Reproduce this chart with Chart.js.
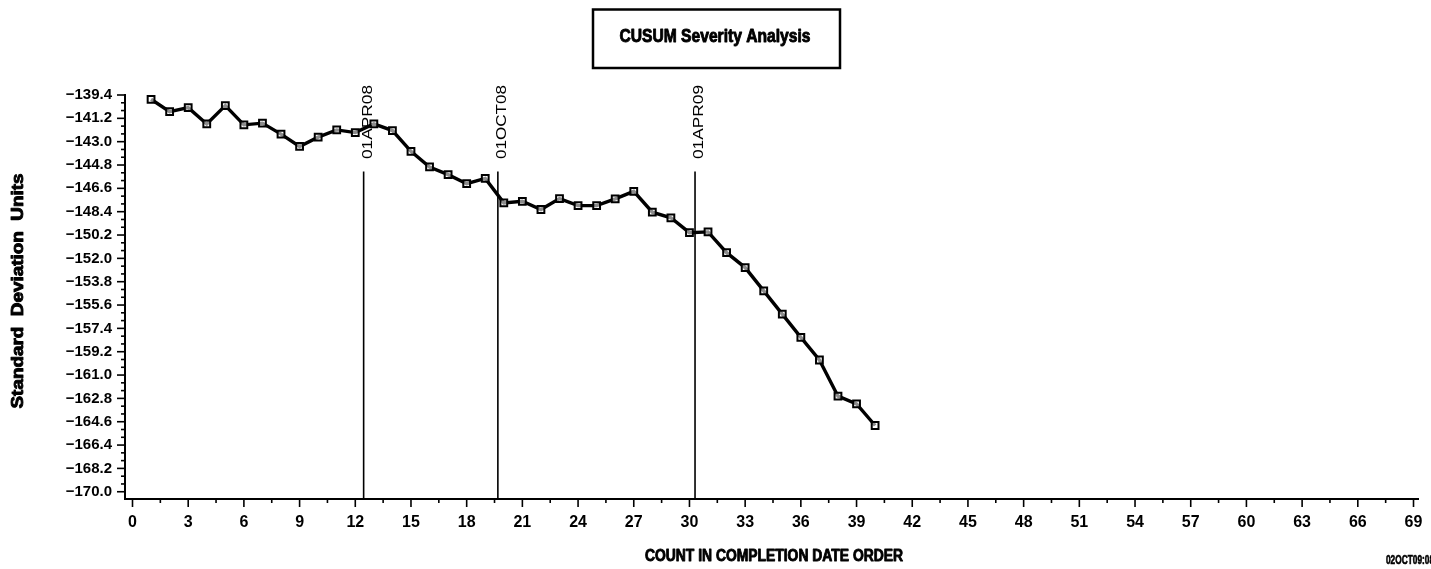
<!DOCTYPE html>
<html>
<head>
<meta charset="utf-8">
<script src="https://cdn.jsdelivr.net/npm/chart.js@4"></script>
<style>
html,body{margin:0;padding:0;background:#fff;}
#wrap{width:1431px;height:569px;position:relative;}
</style>
</head>
<body>
<div id="wrap"><canvas id="c" width="1431" height="569"></canvas></div>
<script>
// ---- data ----
const counts = [1,2,3,4,5,6,7,8,9,10,11,12,13,14,15,16,17,18,19,20,21,22,23,24,25,26,27,28,29,30,31,32,33,34,35,36,37,38,39,40];
const cusum = [-139.73,-140.68,-140.38,-141.63,-140.22,-141.70,-141.57,-142.42,-143.37,-142.65,
               -142.09,-142.30,-141.63,-142.14,-143.75,-144.95,-145.54,-146.24,-145.83,-147.72,
               -147.60,-148.23,-147.39,-147.93,-147.93,-147.41,-146.83,-148.44,-148.87,-150.02,
               -149.96,-151.56,-152.71,-154.51,-156.30,-158.09,-159.84,-162.63,-163.22,-164.89];
const refLabels = ['01APR08','01OCT08','01APR09'];
const refPositions = [12.45, 19.68, 30.30];
const refTop = -145.3;
const yTickValues = [-170.0,-168.2,-166.4,-164.6,-162.8,-161.0,-159.2,-157.4,-155.6,-153.8,-152.0,-150.2,-148.4,-146.6,-144.8,-143.0,-141.2,-139.4];
const xTickValues = [0,3,6,9,12,15,18,21,24,27,30,33,36,39,42,45,48,51,54,57,60,63,66,69];
const titleText = 'CUSUM Severity Analysis';
const yTitle = 'Standard  Deviation  Units';
const xTitle = 'COUNT IN COMPLETION DATE ORDER';
const stamp = '02OCT09:08:27';

const Y_MIN = -170.56, Y_MAX = -139.4;
const X_MIN = -0.404, X_MAX = 69.242;

const mainData = counts.map((c,i)=>({x:c,y:cusum[i]}));
const refSets = refPositions.map((p)=>({
  type:'line', data:[{x:p,y:refTop},{x:p,y:Y_MIN}], borderColor:'#000', borderWidth:1.6,
  pointRadius:0, fill:false, tension:0, clip:false
}));

function fitText(ctx, text, x, y, width, font, align, heavy){
  ctx.save();
  ctx.font = font;
  const w = ctx.measureText(text).width;
  const sx = width / w;
  ctx.translate(x, y);
  ctx.scale(sx, 1);
  ctx.textAlign = align || 'center';
  ctx.textBaseline = 'middle';
  ctx.fillText(text, 0, 0);
  if (heavy){ ctx.lineWidth = heavy; ctx.lineJoin='round'; ctx.strokeText(text, 0, 0); }
  ctx.restore();
}

const decor = {
  id:'decor',
  afterDraw(chart){
    const ctx = chart.ctx;
    const xs = chart.scales.x, ys = chart.scales.y;
    const area = chart.chartArea;
    ctx.save();
    ctx.strokeStyle = '#000'; ctx.fillStyle = '#000';
    // y ticks
    ctx.lineWidth = 1.6;
    for (let k=0;k<=51;k++){
      const v = -170 + 0.6*k;
      const py = ys.getPixelForValue(v);
      const major = (k%3===0);
      ctx.beginPath();
      ctx.moveTo(area.left - (major?8:4), py);
      ctx.lineTo(area.left, py);
      ctx.stroke();
    }
    // x ticks
    for (let k=0;k<=46;k++){
      const v = 1.5*k;
      const px = xs.getPixelForValue(v);
      const major = (k%2===0);
      ctx.beginPath();
      ctx.moveTo(px, area.bottom);
      ctx.lineTo(px, area.bottom + (major?8:4));
      ctx.stroke();
    }
    // reference labels
    refPositions.forEach((p,i)=>{
      const px = xs.getPixelForValue(p);
      ctx.save();
      ctx.translate(px + 4, 122);
      ctx.rotate(-Math.PI/2);
      fitText(ctx, refLabels[i], 0, 0, 74, '15px "Liberation Sans", Arial, sans-serif', 'center');
      ctx.restore();
    });
    // title box
    ctx.lineWidth = 2.5;
    ctx.strokeRect(593, 9.5, 247, 58.5);
    fitText(ctx, titleText, 715, 37, 191, 'bold 18px "Liberation Sans", Arial, sans-serif', 'center', 0.9);
    // y title
    ctx.save();
    ctx.translate(19, 291);
    ctx.rotate(-Math.PI/2);
    fitText(ctx, yTitle, 0, 0, 235, 'bold 16px "Liberation Sans", Arial, sans-serif', 'center', 0.9);
    ctx.restore();
    // x title
    fitText(ctx, xTitle, 774, 557, 258, 'bold 16px "Liberation Sans", Arial, sans-serif', 'center', 0.9);
    fitText(ctx, stamp, 1386, 561, 60, 'bold 12px "Liberation Sans", Arial, sans-serif', 'left', 0.6);
    ctx.restore();
  }
};

const fmt = v => (v<0?'\u2212':'') + Math.abs(v).toFixed(1);

new Chart(document.getElementById('c'), {
  type:'line',
  data:{
    datasets:[
      { data: mainData, borderColor:'#000', borderWidth:3.4, pointStyle:'rect', pointRadius:4.8,
        pointBorderWidth:2, pointBorderColor:'#000', pointBackgroundColor:'rgba(255,255,255,0.55)',
        fill:false, tension:0, clip:false },
      ...refSets
    ]
  },
  options:{
    responsive:false, animation:false, devicePixelRatio:1,
    layout:{padding:{left:0,right:13,top:95,bottom:0}},
    plugins:{legend:{display:false}, tooltip:{enabled:false}, title:{display:false}},
    scales:{
      x:{
        type:'linear', min:X_MIN, max:X_MAX,
        afterBuildTicks: s => { s.ticks = xTickValues.map(v=>({value:v})); },
        afterFit: s => { s.height = 70; s.paddingLeft = 0; s.paddingRight = 0; },
        grid:{display:false, drawTicks:false},
        border:{display:true, color:'#000', width:2},
        ticks:{color:'#000', padding:14, maxRotation:0, autoSkip:false,
          font:{family:'"Liberation Sans Narrow", "Arial Narrow", "Liberation Sans", sans-serif', size:16, weight:'bold'},
          callback: v => String(v)}
      },
      y:{
        type:'linear', min:Y_MIN, max:Y_MAX,
        afterBuildTicks: s => { s.ticks = yTickValues.map(v=>({value:v})); },
        afterFit: s => { s.width = 125; s.paddingTop = 0; s.paddingBottom = 0; },
        grid:{display:false, drawTicks:false},
        border:{display:true, color:'#000', width:2},
        ticks:{color:'#000', padding:13, autoSkip:false,
          font:{family:'"Liberation Sans", Arial, sans-serif', size:15, weight:'bold'},
          callback: v => fmt(v)}
      }
    }
  },
  plugins:[decor]
});
</script>
</body>
</html>
